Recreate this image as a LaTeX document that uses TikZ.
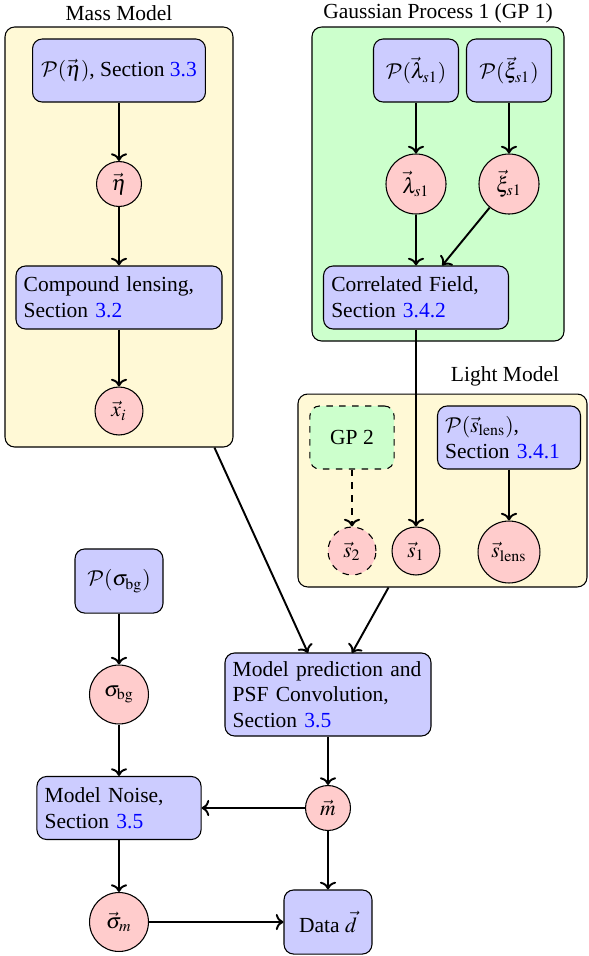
\documentclass[tikz,border=0pt]{standalone}
\usepackage{mathptmx}
\usepackage{fontspec}
\setmainfont{Liberation Serif}
\DeclareMathAlphabet{\mathcal}{OMS}{cmsy}{m}{n}
\usetikzlibrary{arrows.meta}
\definecolor{boxblue}{RGB}{204,204,255}
\definecolor{circpink}{RGB}{255,204,204}
\definecolor{cream}{RGB}{255,249,214}
\definecolor{lgreen}{RGB}{204,255,204}
\newcommand{\secref}[1]{\textcolor{blue}{#1}}
\begin{document}
\begin{tikzpicture}[x=0.465pt,y=-0.465pt,
  container/.style={draw, rounded corners=4.5pt, line width=0.5pt, inner sep=0pt},
  prior/.style={draw, fill=boxblue, rounded corners=4.5pt, line width=0.5pt, inner sep=0pt, align=center},
  opbox/.style={draw, fill=boxblue, rounded corners=4.5pt, line width=0.5pt, inner xsep=3.6pt, inner ysep=0pt, align=left},
  var/.style={draw, fill=circpink, circle, line width=0.5pt, inner sep=0pt},
  edge/.style={->, line width=0.9pt},
  title/.style={inner sep=0pt}
]
\useasboundingbox (0,0) rectangle (588,956);

% containers
\node[container, fill=cream, minimum width=106.0pt, minimum height=195.3pt] (mass) at (119,237) {};
\node[container, fill=lgreen, minimum width=117.2pt, minimum height=146.0pt] (gp1) at (438,184) {};
\node[container, fill=cream, minimum width=134.4pt, minimum height=89.7pt] (light) at (442.5,490.5) {};

\node[title] (tmass) at (119,13) {Mass Model};
\node[title] (tgp1) at (438,13) {Gaussian Process 1 (GP 1)};
\node[title] (tlight) at (505,376) {Light Model};

% mass model
\node[prior, minimum width=80.4pt, minimum height=29.3pt] (peta) at (119,70.5) {$\mathcal{P}(\vec{\eta})$, Section \secref{3.3}};
\node[var, minimum size=20.9pt] (eta) at (119,184) {$\vec{\eta}$};
\node[opbox, text width=88.6pt, minimum height=29.3pt] (cl) at (119,297.5) {Compound lensing,\\ Section \secref{3.2}};
\node[var, minimum size=22.3pt] (xi) at (119,411) {$\vec{x}_i$};

% GP1
\node[prior, minimum width=39.5pt, minimum height=29.3pt] (plam) at (416,70.5) {$\mathcal{P}(\vec{\lambda}_{s1})$};
\node[prior, minimum width=39.5pt, minimum height=29.3pt] (pxi) at (509,70.5) {$\mathcal{P}(\vec{\xi}_{s1})$};
\node[var, minimum size=27.9pt] (lam) at (416,184) {$\vec{\lambda}_{s1}$};
\node[var, minimum size=27.9pt] (xis) at (509,184) {$\vec{\xi}_{s1}$};
\node[opbox, text width=78.8pt, minimum height=29.3pt] (cf) at (416,297.5) {Correlated Field,\\ Section \secref{3.4.2}};

% light model
\node[prior, fill=lgreen, dashed, minimum width=39.1pt, minimum height=29.3pt] (gp2) at (352,437.5) {GP 2};
\node[opbox, text width=59.3pt, minimum height=29.3pt] (pslens) at (509,437.5) {$\mathcal{P}(\vec{s}_{\mathrm{lens}})$,\\ Section \secref{3.4.1}};
\node[var, dashed, minimum size=22.3pt] (s2) at (352,551) {$\vec{s}_2$};
\node[var, minimum size=22.3pt] (s1) at (416,551) {$\vec{s}_1$};
\node[var, minimum size=28.8pt] (slens) at (509,552) {$\vec{s}_{\mathrm{lens}}$};

% lower part
\node[prior, minimum width=40.9pt, minimum height=29.8pt] (psig) at (119,581) {$\mathcal{P}(\sigma_{\mathrm{bg}})$};
\node[var, minimum size=27.4pt] (sig) at (119,694.5) {$\sigma_{\mathrm{bg}}$};
\node[opbox, text width=69.1pt, minimum height=29.3pt] (mn) at (119,808) {Model Noise,\\ Section \secref{3.5}};
\node[var, minimum size=27.4pt] (sigm) at (119,922) {$\vec{\sigma}_m$};
\node[opbox, text width=88.6pt, minimum height=38.6pt] (pred) at (328,694.5) {Model prediction and\\ PSF Convolution,\\ Section \secref{3.5}};
\node[var, minimum size=20.9pt] (m) at (328,808) {$\vec{m}$};
\node[prior, minimum width=40.9pt, minimum height=29.8pt] (data) at (328,922) {Data $\vec{d}$};

\coordinate (pin1) at (308,653);
\coordinate (pin2) at (352,653);

% edges
\draw[edge] (peta) -- (eta);
\draw[edge] (eta) -- (cl);
\draw[edge] (cl) -- (xi);
\draw[edge] (plam) -- (lam);
\draw[edge] (pxi) -- (xis);
\draw[edge] (lam) -- (cf);
\draw[edge] (xis) -- (cf);
\draw[edge] (cf) -- (s1);
\draw[edge, dashed] (gp2) -- (s2);
\draw[edge] (pslens) -- (slens);
\draw[edge] (mass) -- (pin1);
\draw[edge] (light) -- (pin2);
\draw[edge] (psig) -- (sig);
\draw[edge] (sig) -- (mn);
\draw[edge] (mn) -- (sigm);
\draw[edge] (pred) -- (m);
\draw[edge] (m) -- (mn);
\draw[edge] (m) -- (data);
\draw[edge] (sigm) -- (data);
\end{tikzpicture}
\end{document}
